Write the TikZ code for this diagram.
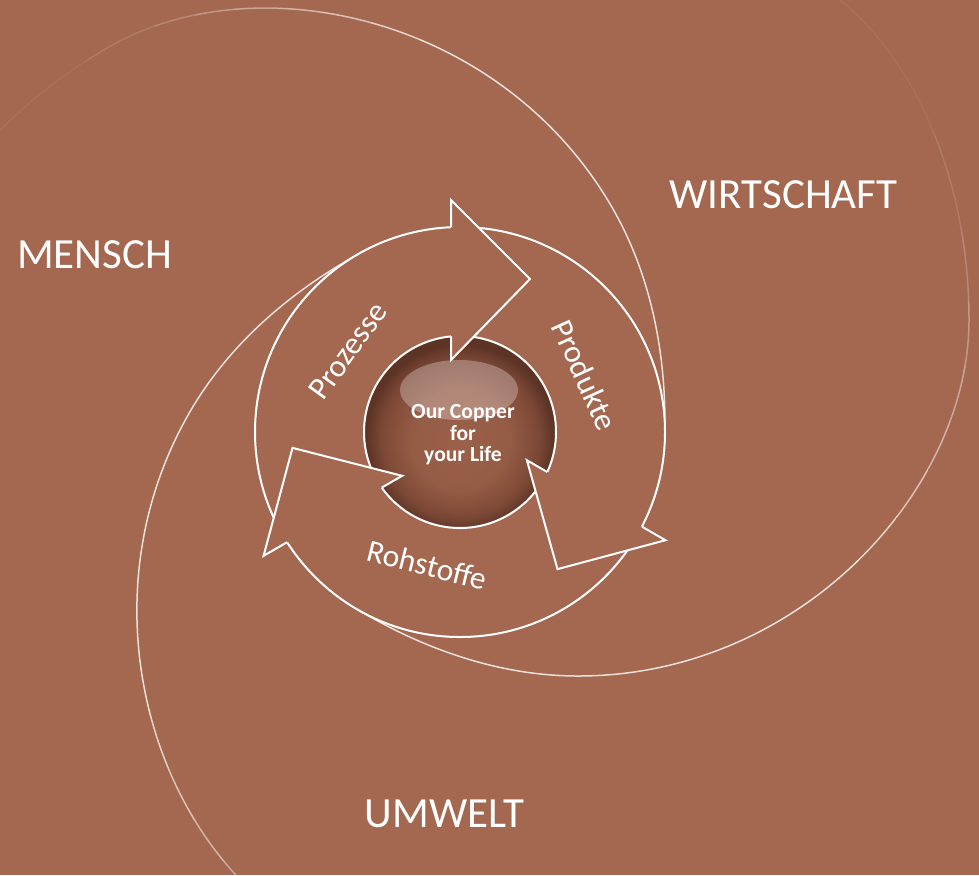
\documentclass[tikz,border=0pt]{standalone}
\usepackage{fontspec}
\setmainfont{Carlito}
\definecolor{coppbg}{RGB}{164,103,80}
\definecolor{ballmid}{RGB}{155,97,74}
\definecolor{ballmid2}{RGB}{148,91,69}
\definecolor{balldark}{RGB}{124,72,54}
\definecolor{ballrim}{RGB}{92,51,37}
\pgfdeclareradialshading{copperball}{\pgfpoint{0bp}{-3bp}}{color(0bp)=(ballmid); color(13bp)=(ballmid2); color(20.5bp)=(balldark); color(24.5bp)=(ballrim); color(50bp)=(ballrim)}
\newcommand{\spiralarm}{(352,606) .. controls (420,648) and (498,676) .. (578,676) .. controls (800,676) and (969,490) .. (969,320) .. controls (969,180) and (915,60) .. (840,0) .. controls (815,-20) and (790,-35) .. (760,-50)}
\begin{document}
\begin{tikzpicture}[x=0.5pt,y=-0.5pt,line join=miter,
  areatext/.style={text=white,font=\fontsize{21.5}{24}\selectfont},
  ringtext/.style={text=white,font=\fontsize{15.8}{18}\selectfont},
  ringedge/.style={draw=white,line width=1pt},
  spiralline/.style={white,line width=0.75pt}]
\fill[coppbg] (0,0) rectangle (979,875);
\useasboundingbox (0,0) rectangle (979,875);
\clip (0,0) rectangle (979,875);
\coordinate (ctr) at (460,432);
% spiral arms, fading outwards
\foreach \ang/\k in {0/1,120/0.94,240/1}{
  \foreach \rin/\rout/\op in {0/420/0.8,420/445/0.7,445/470/0.6,470/490/0.5,490/510/0.42,510/525/0.33,525/540/0.22,540/560/0.13,560/900/0.06}{
    \begin{scope}[even odd rule]
      \clip (ctr) circle ({\rout*\k}) (ctr) circle ({\rin*\k});
      \draw[spiralline,opacity=\op,rotate around={\ang:(ctr)}] \spiralarm;
    \end{scope}
  }
}
% ring of three arrows
\fill[coppbg,even odd rule] (ctr) circle (205) (ctr) circle (96);
\shade[shading=copperball] (ctr) circle (96);
\draw[ringedge] (ctr) circle (205) (ctr) circle (96);
\foreach \ang in {0,-120,-240}{
  \begin{scope}[rotate around={\ang:(ctr)}]
    \fill[coppbg] (451,200) -- (530,279) -- (451,360) -- cycle;
    \draw[ringedge] (451,227.2) -- (451,200) -- (530,279) -- (451,360) -- (451,336.4);
  \end{scope}
}
\fill[white,opacity=0.28] (459,390) ellipse (59 and 30);
\node[areatext,anchor=base] (mensch) at (94.5,268) {MENSCH};
\node[areatext,anchor=base] (wirtschaft) at (783.5,208) {WIRTSCHAFT};
\node[areatext,anchor=base] (umwelt) at (444.5,827) {UMWELT};
\node[ringtext,rotate=54] (prozesse) at (348,351) {Prozesse};
\node[ringtext,rotate=-65.5] (produkte) at (585,375) {Produkte};
\node[ringtext,rotate=-14] (rohstoffe) at (427,565) {Rohstoffe};
\node[text=white,align=center,font=\bfseries\fontsize{10.8}{10.75}\selectfont] (core) at (463,435) {Our Copper\\for\\your Life};
\end{tikzpicture}
\end{document}
